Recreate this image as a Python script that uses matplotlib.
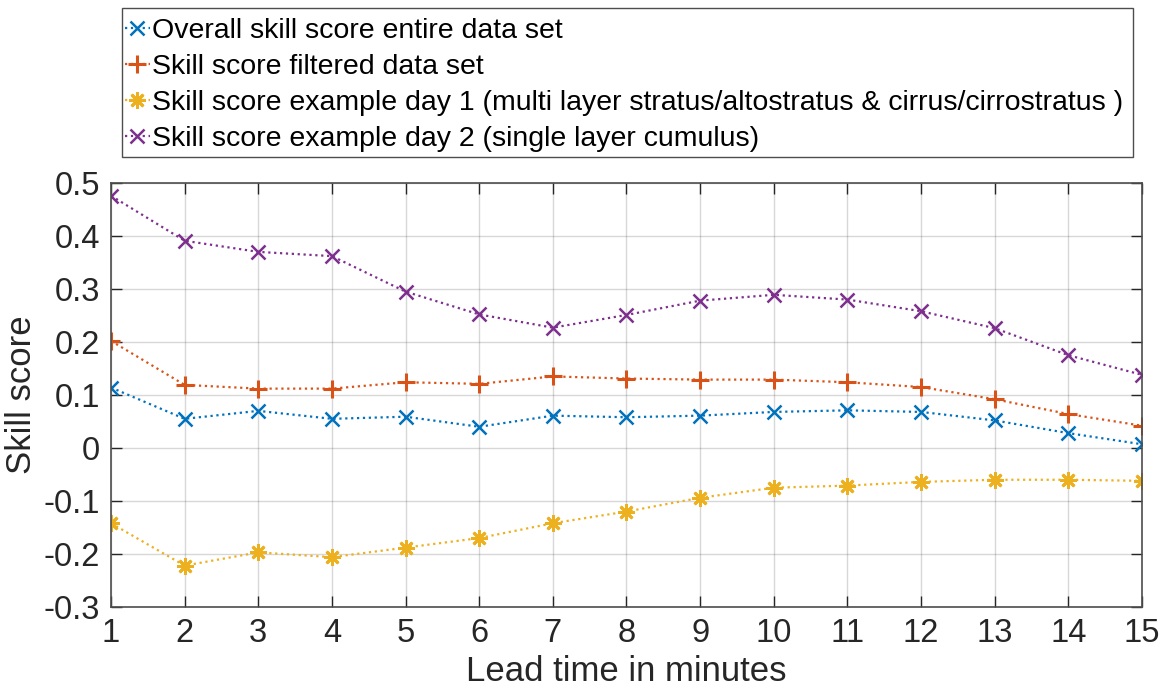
import matplotlib.pyplot as plt
from matplotlib.patches import Rectangle

plt.rcParams['font.family'] = ['Liberation Sans', 'DejaVu Sans']

lead_time = list(range(1, 16))

overall = [0.114, 0.055, 0.070, 0.055, 0.059, 0.040, 0.061, 0.058,
           0.061, 0.068, 0.071, 0.068, 0.052, 0.028, 0.007]
filtered = [0.202, 0.119, 0.112, 0.112, 0.124, 0.121, 0.135, 0.131,
            0.129, 0.129, 0.124, 0.115, 0.092, 0.064, 0.042]
day1 = [-0.142, -0.222, -0.197, -0.206, -0.188, -0.170, -0.142, -0.120,
        -0.094, -0.075, -0.071, -0.064, -0.060, -0.060, -0.062]
day2 = [0.476, 0.391, 0.370, 0.362, 0.295, 0.252, 0.227, 0.251,
        0.278, 0.289, 0.280, 0.258, 0.226, 0.175, 0.138]

labels = ['Overall skill score entire data set',
          'Skill score filtered data set',
          'Skill score example day 1 (multi layer stratus/altostratus & cirrus/cirrostratus )',
          'Skill score example day 2 (single layer cumulus)']

fig = plt.figure(figsize=(11.66, 7), dpi=100)
ax = fig.add_axes([0.0952, 0.1329, 0.8842, 0.6057])

# 8-armed asterisk for the day 1 series
asterisk = (8, 2, 0)

ax.plot(lead_time, overall, ':', color='#0072BD', marker='x', ms=10, mew=1.8, lw=1.6, label=labels[0])
ax.plot(lead_time, filtered, ':', color='#D95319', marker='+', ms=13, mew=2.2, lw=1.6, label=labels[1])
ax.plot(lead_time, day1, ':', color='#EDB120', marker=asterisk, ms=12, mew=2, lw=1.6, label=labels[2])
ax.plot(lead_time, day2, ':', color='#7E2F8E', marker='x', ms=10, mew=1.8, lw=1.6, label=labels[3])

ax.set_xlim(1, 15)
ax.set_ylim(-0.3, 0.5)
ax.set_xticks(lead_time)
yticks = [-0.3, -0.2, -0.1, 0, 0.1, 0.2, 0.3, 0.4, 0.5]
ax.set_yticks(yticks)
ax.set_yticklabels(['-0.3', '-0.2', '-0.1', '0', '0.1', '0.2', '0.3', '0.4', '0.5'])
ax.grid(True, color='#262626', alpha=0.18, lw=1)
ax.tick_params(direction='in', length=8, width=1, labelsize=23.5, colors='#262626',
               top=True, right=True, pad=8)
for sp in ax.spines.values():
    sp.set_color('#4d4d4d')
    sp.set_linewidth(1.2)

ax.set_xlabel('Lead time in minutes', fontsize=25, color='#262626', labelpad=4)
ax.set_ylabel('Skill score', fontsize=25, color='#262626', labelpad=4)

leg = fig.legend(loc='upper left', bbox_to_anchor=(0.1046, 1 - 15 / 700), fontsize=20.5,
                 frameon=True, fancybox=False, edgecolor='#4d4d4d',
                 handlelength=0.85, handletextpad=0.1, borderpad=0.12,
                 labelspacing=0.35, borderaxespad=0)

# legend frame: tight left padding, roomier top and right
fig.canvas.draw()
bb = leg.get_window_extent()
leg.get_frame().set_visible(False)
pad_top, pad_bottom, pad_r = 7, 1, 6
x0, y0 = fig.transFigure.inverted().transform((bb.x0, bb.y0 - pad_bottom))
x1, y1 = fig.transFigure.inverted().transform((bb.x1 + pad_r, bb.y1 + pad_top))
fig.patches.append(Rectangle((x0, y0), x1 - x0, y1 - y0, transform=fig.transFigure,
                             fill=False, edgecolor='#4d4d4d', lw=1))

fig.savefig('out.png', dpi=100)
